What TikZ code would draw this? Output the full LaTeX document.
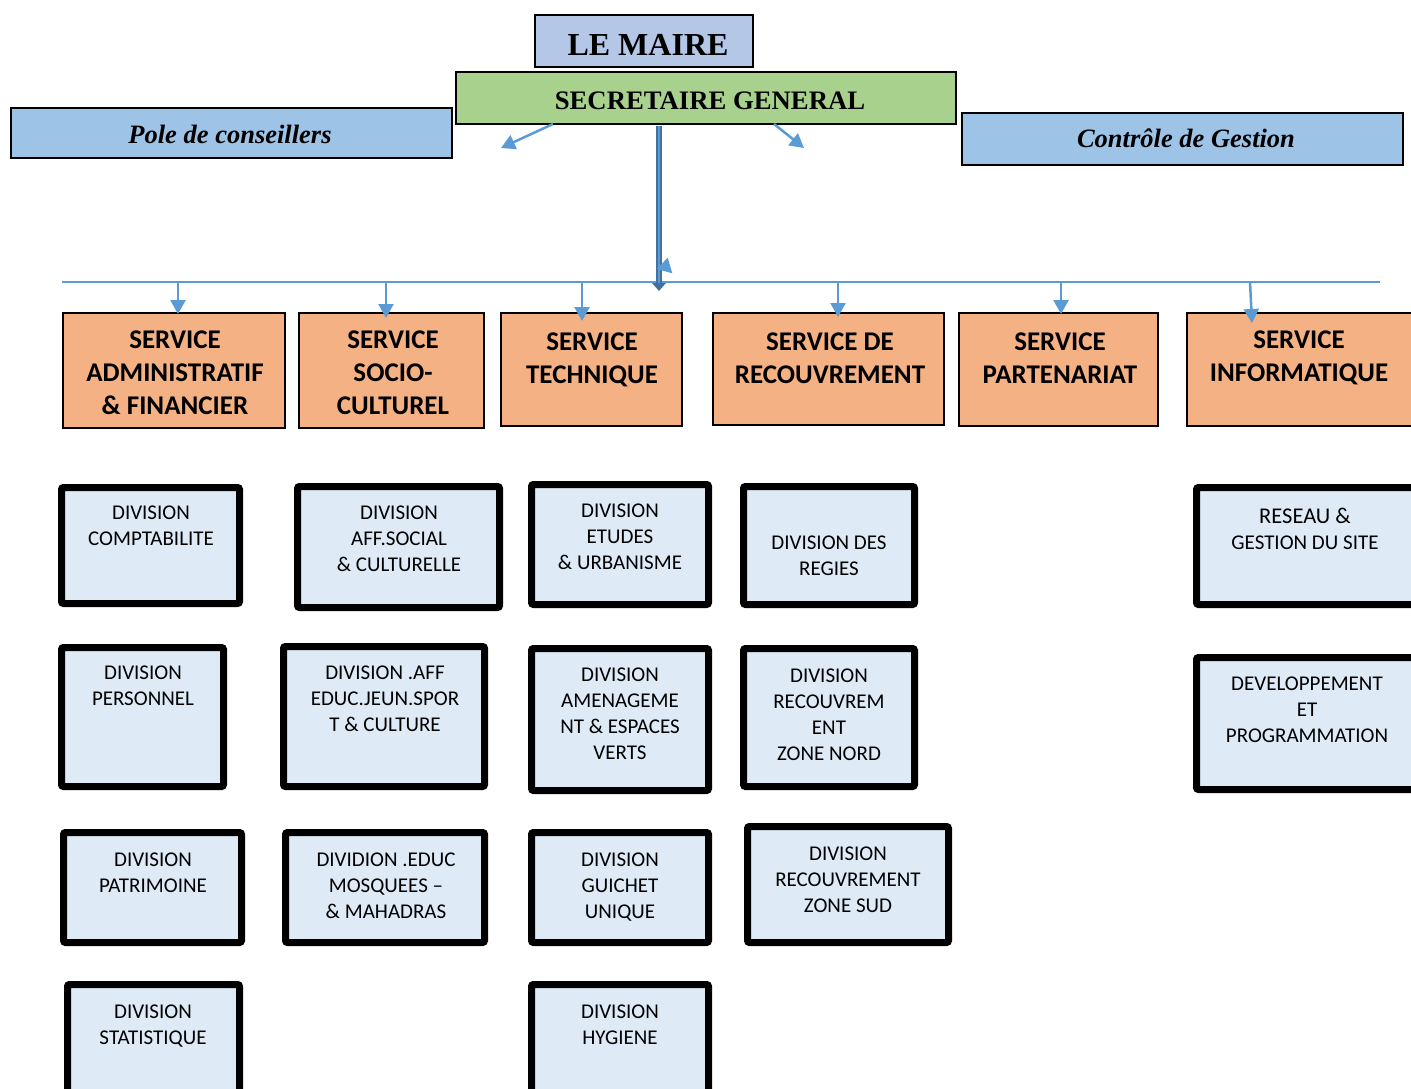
\documentclass[tikz,border=0pt]{standalone}
\usepackage{fontspec}
\setmainfont{Liberation Serif}
\newfontfamily\calfont{Carlito}
\usetikzlibrary{fit,arrows.meta}
\definecolor{mairefill}{HTML}{B4C7E7}
\definecolor{sgfill}{HTML}{A9D18E}
\definecolor{sidefill}{HTML}{9DC3E6}
\definecolor{svcfill}{HTML}{F4B183}
\definecolor{divfill}{HTML}{DEEBF7}
\definecolor{arrowblue}{HTML}{5B9BD5}
\definecolor{darkblue}{HTML}{41719C}
\tikzset{
  topbox/.style={draw=black, line width=2pt, inner sep=0pt},
  svcbox/.style={draw=black, line width=2pt, fill=svcfill, inner sep=0pt},
  divbox/.style={draw=black, line width=7pt, fill=divfill, rounded corners=2pt, inner sep=0pt},
  svctxt/.style={font=\calfont\bfseries\fontsize{27}{33}\selectfont, align=center, inner sep=0pt, anchor=north},
  divtxt/.style={font=\calfont\fontsize{21}{26}\selectfont, align=center, inner sep=0pt, anchor=north},
  toptxt/.style={inner sep=0pt, anchor=base},
  barrow/.style={draw=arrowblue, line width=2.5pt, -{Triangle[width=15pt,length=14pt]}},
}
\newcommand{\mybox}[6]{\node[#1, fit={(#3,#4) (#5,#6)}] (#2) {};}
\begin{document}
\begin{tikzpicture}[x=1pt,y=-1pt]
\useasboundingbox (0,0) rectangle (1411,1089);
% top boxes
\mybox{topbox,fill=mairefill}{maire}{535}{15}{753}{67}
\mybox{topbox,fill=sidefill}{pole}{11}{108}{452}{158}
\mybox{topbox,fill=sidefill}{ctrl}{962}{113}{1403}{165}
\mybox{topbox,fill=sgfill}{sg}{456}{72}{956}{124}
\node[toptxt, font=\bfseries\fontsize{32}{36}\selectfont] (tmaire) at (648,56) {LE MAIRE};
\node[toptxt, font=\bfseries\fontsize{26.7}{30}\selectfont] (tsg) at (710,110) {SECRETAIRE GENERAL};
\node[toptxt, font=\bfseries\itshape\fontsize{26.5}{30}\selectfont] (tpole) at (230,143) {Pole de conseillers};
\node[toptxt, font=\bfseries\itshape\fontsize{26.5}{30}\selectfont] (tctrl) at (1186,148) {Contrôle de Gestion};
% arrows from SG
\coordinate (sgl) at (553,124);
\coordinate (sgle) at (501,148);
\coordinate (sgr) at (774,124);
\coordinate (sgre) at (804,148);
\draw[barrow] (sgl) -- (sgle);
\draw[barrow] (sgr) -- (sgre);
% service boxes
\mybox{svcbox}{s1}{63}{313}{285}{428}
\mybox{svcbox}{s2}{299}{313}{484}{428}
\mybox{svcbox}{s3}{501}{313}{682}{426}
\mybox{svcbox}{s4}{713}{313}{944}{425}
\mybox{svcbox}{s5}{959}{313}{1158}{426}
\mybox{svcbox}{s6}{1187}{313}{1425}{426}
\node[svctxt] (ts1) at (175,331) {SERVICE\\ADMINISTRATIF\\\& FINANCIER};
\node[svctxt] (ts2) at (393,331) {SERVICE\\SOCIO-\\CULTUREL};
\node[svctxt] (ts3) at (592,333) {SERVICE\\TECHNIQUE};
\node[svctxt] (ts4) at (830,333) {SERVICE DE\\RECOUVREMENT};
\node[svctxt] (ts5) at (1060,333) {SERVICE\\PARTENARIAT};
\node[svctxt] (ts6) at (1299,331) {SERVICE\\INFORMATIQUE};
% bus line
\coordinate (busl) at (62,282);
\coordinate (busr) at (1380,282);
\draw[arrowblue, line width=1.5pt] (busl) -- (busr);
\coordinate (b1) at (178,282);
\coordinate (b2) at (386,282);
\coordinate (b3) at (582,282);
\coordinate (b4) at (838,282);
\coordinate (b5) at (1061,281);
\coordinate (b6) at (1250,282);
\coordinate (e6) at (1252,323);
\draw[barrow] (b1) -- ([yshift=-2pt]b1 |- s1.north);
\draw[barrow] (b2) -- ([yshift=-6pt]b2 |- s2.north);
\draw[barrow] (b3) -- ([yshift=-9pt]b3 |- s3.north);
\draw[barrow] (b4) -- ([yshift=-5pt]b4 |- s4.north);
\draw[barrow] (b5) -- ([yshift=-2pt]b5 |- s5.north);
\draw[barrow] (b6) -- (e6);
% vertical double connector
\coordinate (vtop) at (659,126);
\coordinate (vbot) at (659,291);
\draw[darkblue, line width=1.6pt, double=arrowblue, double distance=2.4pt, shorten >=6pt] (vtop) -- (vbot);
\fill[darkblue] (652,283) -- (666,283) -- (vbot) -- cycle;
\fill[arrowblue] (656.7,269) -- (667.7,257.7) -- (672.3,273.3) -- cycle;
% divisions column 1
\mybox{divbox}{d11}{61.5}{487.5}{239.5}{603.5}
\mybox{divbox}{d12}{61.5}{647.5}{223.5}{786.5}
\mybox{divbox}{d13}{63.5}{832.5}{241.5}{942.5}
\mybox{divbox}{d14}{67.5}{984.5}{239.5}{1100}
\node[divtxt] (t11) at (151,506) {DIVISION\\COMPTABILITE};
\node[divtxt] (t12) at (143,666) {DIVISION\\PERSONNEL};
\node[divtxt] (t13) at (153,853) {DIVISION\\PATRIMOINE};
\node[divtxt] (t14) at (153,1005) {DIVISION\\STATISTIQUE};
% column 2
\mybox{divbox}{d21}{297.5}{486.5}{499.5}{607.5}
\mybox{divbox}{d22}{283.5}{646.5}{484.5}{786.5}
\mybox{divbox}{d23}{285.5}{832.5}{484.5}{942.5}
\node[divtxt] (t21) at (399,506) {DIVISION\\AFF.SOCIAL\\\& CULTURELLE};
\node[divtxt] (t22) at (385,666) {DIVISION .AFF\\EDUC.JEUN.SPOR\\T \& CULTURE};
\node[divtxt] (t23) at (386,853) {DIVIDION .EDUC\\MOSQUEES –\\\& MAHADRAS};
% column 3
\mybox{divbox}{d31}{531.5}{484.5}{708.5}{604.5}
\mybox{divbox}{d32}{531.5}{648.5}{708.5}{790.5}
\mybox{divbox}{d33}{531.5}{832.5}{708.5}{942.5}
\mybox{divbox}{d34}{531.5}{984.5}{708.5}{1100}
\node[divtxt] (t31) at (620,504) {DIVISION\\ETUDES\\\& URBANISME};
\node[divtxt] (t32) at (620,668) {DIVISION\\AMENAGEME\\NT \& ESPACES\\VERTS};
\node[divtxt] (t33) at (620,853) {DIVISION\\GUICHET\\UNIQUE};
\node[divtxt] (t34) at (620,1005) {DIVISION\\HYGIENE};
% column 4
\mybox{divbox}{d41}{743.5}{486.5}{914.5}{604.5}
\mybox{divbox}{d42}{743.5}{648.5}{914.5}{786.5}
\mybox{divbox}{d43}{747.5}{826.5}{948.5}{942.5}
\node[divtxt] (t41) at (829,536) {DIVISION DES\\REGIES};
\node[divtxt] (t42) at (829,669) {DIVISION\\RECOUVREM\\ENT\\ZONE NORD};
\node[divtxt] (t43) at (848,847) {DIVISION\\RECOUVREMENT\\ZONE SUD};
% column 6
\mybox{divbox}{d61}{1196.5}{487.5}{1425}{604.5}
\mybox{divbox}{d62}{1196.5}{657.5}{1425}{789.5}
\node[divtxt] (t61) at (1305,508) {{\fontsize{22.5}{26}\selectfont RESEAU \&}\\GESTION DU SITE};
\node[divtxt] (t62) at (1307,677) {DEVELOPPEMENT\\ET\\PROGRAMMATION};
\end{tikzpicture}
\end{document}
